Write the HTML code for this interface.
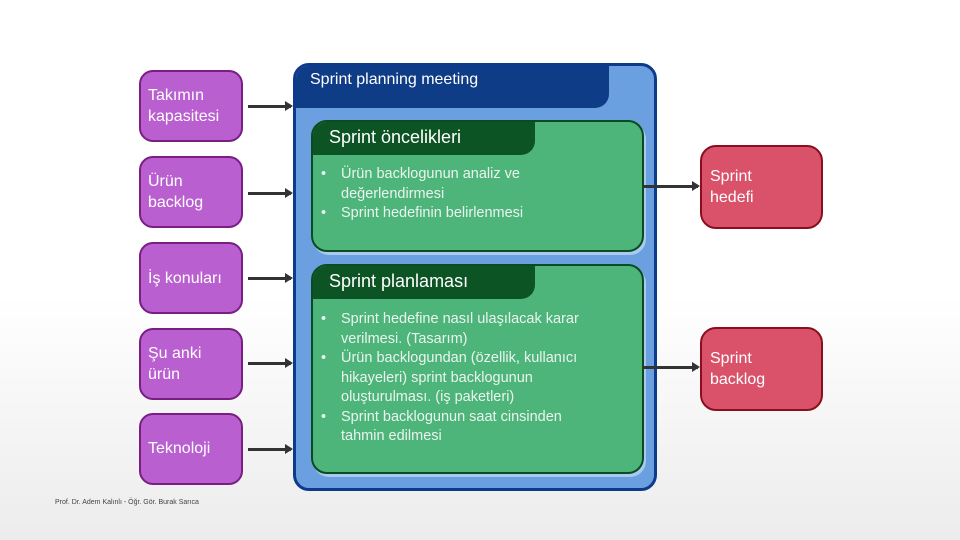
<!DOCTYPE html>
<html><head><meta charset="utf-8"><style>
body{margin:0;width:960px;height:540px;overflow:hidden;background:linear-gradient(#fff 0%,#fff 55%,#ececec 100%);font-family:"Liberation Sans",sans-serif;position:relative}
.p{position:absolute;left:139px;width:104px;height:68px;background:#b95fcf;border:2.5px solid #7a1e85;border-radius:14px;color:#fff;font-size:16px;line-height:21px;box-sizing:border-box;padding-left:7px;display:flex;align-items:center}
.r{position:absolute;left:700px;width:123px;height:84px;background:#d9526a;border:2.5px solid #8a0f1e;border-radius:16px;color:#fff;font-size:16px;line-height:21px;box-sizing:border-box;padding-left:8px;display:flex;align-items:center}
.blue{position:absolute;left:293px;top:63px;width:364px;height:428px;background:#6a9fe0;border:3px solid #0d3a8a;border-radius:16px;box-sizing:border-box;overflow:hidden}
.bh{position:absolute;left:0;top:0;width:313px;height:42px;background:#0f3c87;border-bottom-right-radius:14px;color:#fff;font-size:16px;padding:5px 0 0 14px;box-sizing:border-box}
.g{position:absolute;left:311px;width:333px;background:#4db47a;border:2.5px solid #0b4b1f;border-radius:16px;box-sizing:border-box;overflow:hidden;box-shadow:2px 3px 0 #a9c9ee}
.gh{position:absolute;left:0;top:0;width:222px;height:33px;background:#0c5424;border-bottom-right-radius:14px;color:#fff;font-size:18px;padding:5px 0 0 16px;box-sizing:border-box}
ul{position:absolute;left:0;margin:0;padding-left:28px;color:#eaf5ee;font-size:14.5px;line-height:19.5px;list-style:none}
li{position:relative}li:before{content:"•";position:absolute;left:-20px}
.a{position:absolute;height:3px;background:#333}
.a:after{content:"";position:absolute;right:-2px;top:-4px;border-left:8px solid #333;border-top:5.5px solid transparent;border-bottom:5.5px solid transparent}
</style></head><body>
<div class="p" style="top:70px;height:72px">Takımın<br>kapasitesi</div>
<div class="p" style="top:156px;height:72px">Ürün<br>backlog</div>
<div class="p" style="top:242px;height:72px">İş konuları</div>
<div class="p" style="top:328px;height:72px">Şu anki<br>ürün</div>
<div class="p" style="top:413px;height:72px;align-items:flex-end;padding-bottom:24px">Teknoloji</div>
<div class="a" style="left:248px;top:105px;width:43px"></div>
<div class="a" style="left:248px;top:192px;width:43px"></div>
<div class="a" style="left:248px;top:277px;width:43px"></div>
<div class="a" style="left:248px;top:362px;width:43px"></div>
<div class="a" style="left:248px;top:448px;width:43px"></div>
<div class="blue"><div class="bh">Sprint planning meeting</div></div>
<div class="g" style="top:120px;height:132px"><div class="gh">Sprint öncelikleri</div>
<ul style="top:43px"><li>Ürün backlogunun analiz ve<br>değerlendirmesi</li><li>Sprint hedefinin belirlenmesi</li></ul></div>
<div class="g" style="top:264px;height:210px"><div class="gh">Sprint planlaması</div>
<ul style="top:44px"><li>Sprint hedefine nasıl ulaşılacak karar<br>verilmesi. (Tasarım)</li><li>Ürün backlogundan (özellik, kullanıcı<br>hikayeleri) sprint backlogunun<br>oluşturulması. (iş paketleri)</li><li>Sprint backlogunun saat cinsinden<br>tahmin edilmesi</li></ul></div>
<div class="a" style="left:643px;top:185px;width:55px"></div>
<div class="a" style="left:643px;top:366px;width:55px"></div>
<div class="r" style="top:145px">Sprint<br>hedefi</div>
<div class="r" style="top:327px">Sprint<br>backlog</div>
<div style="position:absolute;left:55px;top:499px;font-size:7px;color:#444">Prof. Dr. Adem Kalınlı - Öğr. Gör. Burak Sarıca</div>
</body></html>
